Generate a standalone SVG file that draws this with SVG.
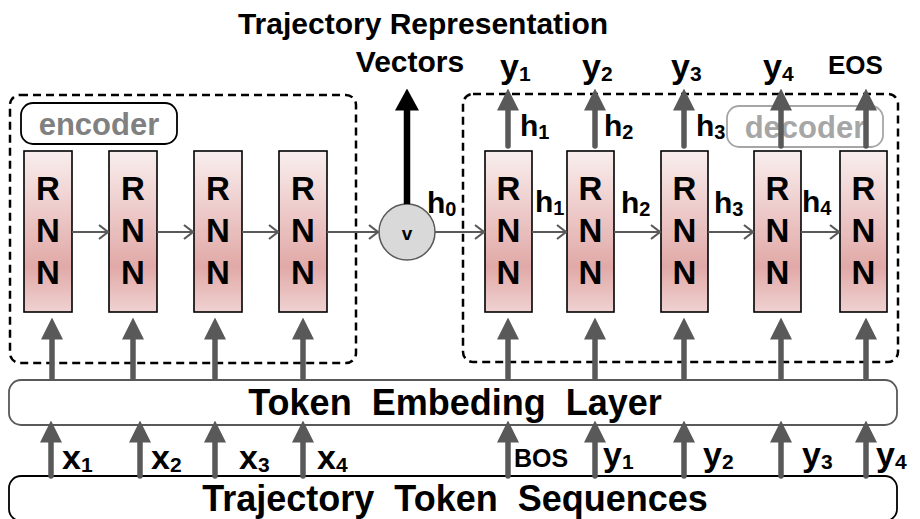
<svg xmlns="http://www.w3.org/2000/svg" width="920" height="519" viewBox="0 0 920 519">
<defs>
<linearGradient id="rnnGrad" x1="0" y1="0" x2="0" y2="1">
<stop offset="0" stop-color="#f9eeee"/>
<stop offset="0.72" stop-color="#e1a9a7"/>
<stop offset="1" stop-color="#efd2d2"/>
</linearGradient>
<marker id="head" markerUnits="userSpaceOnUse" viewBox="0 -11 22 22" refX="0.5" refY="0" markerWidth="22" markerHeight="22" orient="auto">
<path d="M0,-11 L22,0 L0,11 z" fill="#595959"/>
</marker>
<marker id="headBlack" markerUnits="userSpaceOnUse" viewBox="0 -12 22 24" refX="0.5" refY="0" markerWidth="22" markerHeight="24" orient="auto">
<path d="M0,-12 L22,0 L0,12 z" fill="#000"/>
</marker>
<marker id="chev" markerUnits="userSpaceOnUse" viewBox="-12 -9 14 18" refX="0" refY="0" markerWidth="14" markerHeight="18" orient="auto">
<path d="M-9,-7 L0,0 L-9,7" fill="none" stroke="#595959" stroke-width="2.2"/>
</marker>
</defs>
<style>
text{font-family:"Liberation Sans",Arial,sans-serif;font-weight:bold;fill:#000}
.rnn rect{fill:url(#rnnGrad);stroke:#000;stroke-width:1.6}
.rnn text{font-size:33px;text-anchor:middle}
.dash{fill:none;stroke:#000;stroke-width:2.5;stroke-dasharray:8 5}
.thin{stroke:#595959;stroke-width:2.2;fill:none;marker-end:url(#chev)}
.thick{stroke:#595959;stroke-width:5.5;stroke-linecap:round;fill:none;marker-end:url(#head)}
.lbl{font-size:34px}
.sub{font-size:21px}
.hl{font-size:30px}
.hs{font-size:20px}
.big{font-size:36px;white-space:pre;text-anchor:middle}
.tag{font-size:31px;text-anchor:middle}
</style>

<g id="encoder">
<rect class="dash" x="10" y="95" width="346" height="268" rx="10"/>
<rect x="21" y="103" width="156" height="41" rx="12" fill="#fff" stroke="#000" stroke-width="1.8"/>
<text class="tag" x="99" y="135" style="fill:#808080">encoder</text>
</g>

<g id="decoder">
<rect class="dash" x="463" y="94" width="435" height="268" rx="10"/>
<rect x="727" y="106" width="156" height="41" rx="12" fill="#fff" stroke="#a6a6a6" stroke-width="1.8"/>
<text class="tag" x="805" y="138" style="fill:#a6a6a6">decoder</text>
</g>

<g id="enc-rnn-1" class="rnn"><rect x="24" y="151" width="48" height="161"/><text x="48" y="200">R</text><text x="48" y="242">N</text><text x="48" y="284">N</text></g>
<g id="enc-rnn-2" class="rnn"><rect x="109" y="151" width="48" height="161"/><text x="133" y="200">R</text><text x="133" y="242">N</text><text x="133" y="284">N</text></g>
<g id="enc-rnn-3" class="rnn"><rect x="194" y="151" width="48" height="161"/><text x="218" y="200">R</text><text x="218" y="242">N</text><text x="218" y="284">N</text></g>
<g id="enc-rnn-4" class="rnn"><rect x="279" y="151" width="48" height="161"/><text x="303" y="200">R</text><text x="303" y="242">N</text><text x="303" y="284">N</text></g>

<g id="dec-rnn-1" class="rnn"><rect x="485" y="151" width="47" height="161"/><text x="508.5" y="200">R</text><text x="508.5" y="242">N</text><text x="508.5" y="284">N</text></g>
<g id="dec-rnn-2" class="rnn"><rect x="567" y="151" width="47" height="161"/><text x="590.5" y="200">R</text><text x="590.5" y="242">N</text><text x="590.5" y="284">N</text></g>
<g id="dec-rnn-3" class="rnn"><rect x="661" y="151" width="47" height="161"/><text x="684.5" y="200">R</text><text x="684.5" y="242">N</text><text x="684.5" y="284">N</text></g>
<g id="dec-rnn-4" class="rnn"><rect x="754" y="151" width="47" height="161"/><text x="777.5" y="200">R</text><text x="777.5" y="242">N</text><text x="777.5" y="284">N</text></g>
<g id="dec-rnn-5" class="rnn"><rect x="840" y="151" width="47" height="161"/><text x="863.5" y="200">R</text><text x="863.5" y="242">N</text><text x="863.5" y="284">N</text></g>

<g id="vector">
<circle cx="407" cy="232" r="28" fill="#d9d9d9" stroke="#595959" stroke-width="1.5"/>
<text x="407" y="240" font-size="19" text-anchor="middle">v</text>
</g>

<g id="embedding">
<rect x="9" y="380" width="888" height="45" rx="12" fill="#fff" stroke="#595959" stroke-width="1.8"/>
<text class="big" x="455" y="415">Token  Embeding  Layer</text>
</g>

<g id="sequences">
<rect x="9" y="476" width="888" height="45" rx="12" fill="#fff" stroke="#000" stroke-width="1.8"/>
<text class="big" x="455" y="511">Trajectory  Token  Sequences</text>
</g>

<g id="connectors">
<line class="thin" x1="72" y1="232" x2="108" y2="232"/>
<line class="thin" x1="157" y1="232" x2="193" y2="232"/>
<line class="thin" x1="242" y1="232" x2="278" y2="232"/>
<line class="thin" x1="327" y1="232" x2="378" y2="232"/>
<line class="thin" x1="435" y1="232" x2="484" y2="232"/>
<line class="thin" x1="532" y1="232" x2="566" y2="232"/>
<line class="thin" x1="614" y1="232" x2="660" y2="232"/>
<line class="thin" x1="708" y1="232" x2="753" y2="232"/>
<line class="thin" x1="801" y1="232" x2="839" y2="232"/>

<line x1="407" y1="204" x2="407" y2="110" stroke="#000" stroke-width="6.5" marker-end="url(#headBlack)"/>

<line class="thick" x1="508" y1="146" x2="508" y2="110"/>
<line class="thick" x1="595" y1="146" x2="595" y2="110"/>
<line class="thick" x1="684" y1="146" x2="684" y2="110"/>
<line class="thick" x1="781" y1="146" x2="781" y2="110"/>
<line class="thick" x1="866" y1="146" x2="866" y2="110"/>

<line class="thick" x1="52" y1="378" x2="52" y2="339"/>
<line class="thick" x1="133" y1="378" x2="133" y2="339"/>
<line class="thick" x1="215" y1="378" x2="215" y2="339"/>
<line class="thick" x1="303" y1="378" x2="303" y2="339"/>
<line class="thick" x1="508" y1="378" x2="508" y2="339"/>
<line class="thick" x1="595" y1="378" x2="595" y2="339"/>
<line class="thick" x1="684" y1="378" x2="684" y2="339"/>
<line class="thick" x1="781" y1="378" x2="781" y2="339"/>
<line class="thick" x1="866" y1="378" x2="866" y2="339"/>

<line class="thick" x1="51" y1="476" x2="51" y2="442"/>
<line class="thick" x1="140" y1="476" x2="140" y2="442"/>
<line class="thick" x1="215" y1="476" x2="215" y2="442"/>
<line class="thick" x1="303" y1="476" x2="303" y2="442"/>
<line class="thick" x1="508" y1="476" x2="508" y2="442"/>
<line class="thick" x1="595" y1="476" x2="595" y2="442"/>
<line class="thick" x1="684" y1="476" x2="684" y2="442"/>
<line class="thick" x1="781" y1="476" x2="781" y2="442"/>
<line class="thick" x1="866" y1="476" x2="866" y2="442"/>
</g>

<g id="labels">
<text x="423" y="34" font-size="30" text-anchor="middle">Trajectory Representation</text>
<text x="410" y="72" font-size="30" text-anchor="middle">Vectors</text>

<text class="lbl" x="500" y="78">y<tspan class="sub" dy="3">1</tspan></text>
<text class="lbl" x="582" y="78">y<tspan class="sub" dy="3">2</tspan></text>
<text class="lbl" x="671" y="78">y<tspan class="sub" dy="3">3</tspan></text>
<text class="lbl" x="763" y="78">y<tspan class="sub" dy="3">4</tspan></text>
<text x="828" y="74" font-size="26">EOS</text>

<text class="hl" x="520" y="136">h<tspan class="hs" dy="3">1</tspan></text>
<text class="hl" x="604" y="136">h<tspan class="hs" dy="3">2</tspan></text>
<text class="hl" x="696" y="136">h<tspan class="hs" dy="3">3</tspan></text>

<text class="hl" x="427" y="213">h<tspan class="hs" dy="3">0</tspan></text>
<text class="hl" x="535" y="212">h<tspan class="hs" dy="3">1</tspan></text>
<text class="hl" x="621" y="213">h<tspan class="hs" dy="3">2</tspan></text>
<text class="hl" x="714" y="213">h<tspan class="hs" dy="3">3</tspan></text>
<text class="hl" x="802" y="212">h<tspan class="hs" dy="3">4</tspan></text>

<text class="lbl" x="62" y="469">x<tspan class="sub" dy="3">1</tspan></text>
<text class="lbl" x="151" y="469">x<tspan class="sub" dy="3">2</tspan></text>
<text class="lbl" x="239" y="469">x<tspan class="sub" dy="3">3</tspan></text>
<text class="lbl" x="317" y="469">x<tspan class="sub" dy="3">4</tspan></text>

<text x="514" y="467" font-size="25">BOS</text>
<text class="lbl" x="603" y="466">y<tspan class="sub" dy="3">1</tspan></text>
<text class="lbl" x="703" y="466">y<tspan class="sub" dy="3">2</tspan></text>
<text class="lbl" x="802" y="466">y<tspan class="sub" dy="3">3</tspan></text>
<text class="lbl" x="876" y="466">y<tspan class="sub" dy="3">4</tspan></text>
</g>
</svg>
